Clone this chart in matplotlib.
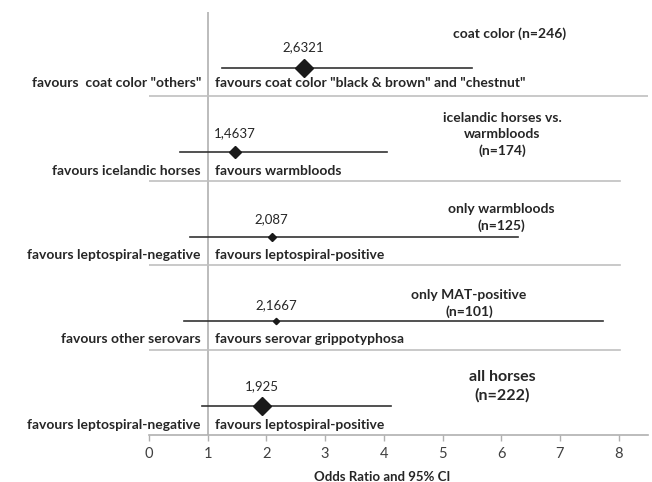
import matplotlib.pyplot as plt

# data (top row first)
odds = [2.6321, 1.4637, 2.087, 2.1667, 1.925]
odds_labels = ["2,6321", "1,4637", "2,087", "2,1667", "1,925"]
ci_low = [1.25, 0.53, 0.69, 0.60, 0.90]
ci_high = [5.50, 4.06, 6.29, 7.74, 4.12]
left_labels = ['favours  coat color "others"', "favours icelandic horses",
               "favours leptospiral-negative", "favours other serovars",
               "favours leptospiral-negative"]
right_labels = ['favours coat color "black & brown" and "chestnut"',
                "favours warmbloods", "favours leptospiral-positive",
                "favours serovar grippotyphosa", "favours leptospiral-positive"]
titles = ["coat color (n=246)", "icelandic horses vs.\nwarmbloods\n(n=174)",
          "only warmbloods\n(n=125)", "only MAT-positive\n(n=101)",
          "all horses\n(n=222)"]
ticks = [0, 1, 2, 3, 4, 5, 6, 7, 8]

plt.rcParams['font.family'] = ['Lato', 'DejaVu Sans']
txt = '#262626'

fig = plt.figure(figsize=(6.52, 4.82), dpi=100)
ax = fig.add_axes([149/652, 47/482, 499/652, 423/482])
ax.set_xlim(0, 8.5)
ax.set_ylim(0.657, 5.66)

rows = [5, 4, 3, 2, 1]
msizes = [8.7, 6.2, 4.2, 3.2, 8.7]
title_x = [6.14, 6.02, 6.0, 5.45, 6.02]
title_dy = [0.40, 0.215, 0.227, 0.215, 0.235]
title_fs = [10, 10, 10, 10, 11.5]
label_dy = [0.18, 0.22, 0.21, 0.21, 0.23]
value_dy = [0.25, 0.23, 0.21, 0.19, 0.24]

ax.axvline(1, color='#b0b0b0', lw=1.2, zorder=1)

for i, y in enumerate(rows):
    ax.plot([ci_low[i], ci_high[i]], [y, y], color='#333333', lw=1.2, zorder=2)
    ax.plot(odds[i], y, marker='D', ms=msizes[i], color='#1a1a1a', zorder=3)
    ax.text(odds[i], y + value_dy[i], odds_labels[i], ha='center', va='center',
            fontsize=9.5, color=txt)
    ax.text(0.885, y - label_dy[i], left_labels[i], ha='right', va='center',
            fontsize=10, fontweight='bold', color=txt)
    ax.text(1.12, y - label_dy[i], right_labels[i], ha='left', va='center',
            fontsize=10, fontweight='bold', color=txt)
    ax.text(title_x[i], y + title_dy[i], titles[i], ha='center', va='center',
            fontsize=title_fs[i], fontweight='bold', color=txt, linespacing=1.4)
    if i < 4:
        xmax = 8.5 if i == 0 else 8.03
        ax.plot([0, xmax], [y - 0.335, y - 0.335], color='#c0c0c0', lw=1.2, zorder=1)

for s in ['left', 'right', 'top']:
    ax.spines[s].set_visible(False)
ax.spines['bottom'].set_color('#b0b0b0')
ax.spines['bottom'].set_linewidth(1.2)
ax.set_yticks([])
ax.set_xticks(ticks)
ax.set_xticklabels([str(t) for t in ticks])
ax.tick_params(axis='x', colors='#b0b0b0', labelcolor='#404040', labelsize=10.5,
               length=4, width=1, pad=5)
ax.set_xlabel("Odds Ratio and 95% CI", fontsize=9.5, fontweight='bold', color=txt)
ax.xaxis.set_label_coords(0.467, -0.085)

fig.savefig("out.png", dpi=100)
